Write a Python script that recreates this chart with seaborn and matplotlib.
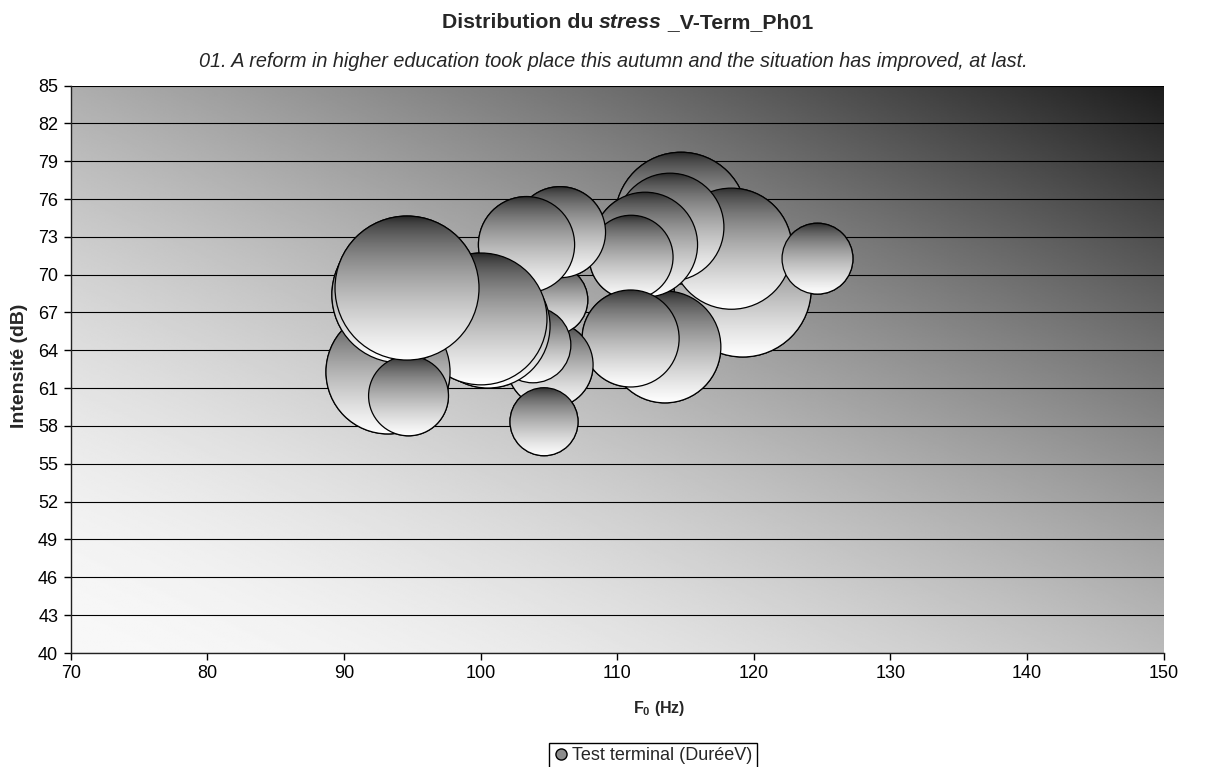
import numpy as np
import pandas as pd
import matplotlib
matplotlib.use("Agg")
import matplotlib.pyplot as plt
import seaborn as sns
from matplotlib.patches import Circle
from matplotlib.transforms import IdentityTransform
from matplotlib.lines import Line2D

# ---------------- data (drawing order: back to front) ----------------
f0_hz = [119.2, 114.68, 113.5, 118.37, 113.87, 112.05, 111.03, 110.99, 124.67,
         105.09, 105.3, 103.84, 104.65, 105.82, 103.37, 100.55, 100.04, 93.23,
         94.1, 94.73, 94.62]
intensite_db = [68.9, 74.48, 64.27, 72.06, 73.77, 72.38, 71.39, 64.94, 71.27,
                62.85, 67.99, 64.43, 58.34, 73.37, 72.38, 65.93, 66.49, 62.29,
                68.4, 60.39, 68.94]
duree_ms = [235, 218, 157, 184, 146, 138, 88, 118, 63,
            93, 61, 72, 58, 104, 116, 193, 218, 193,
            232, 80, 260]

x_ticks = [70, 80, 90, 100, 110, 120, 130, 140, 150]
y_ticks = [40, 43, 46, 49, 52, 55, 58, 61, 64, 67, 70, 73, 76, 79, 82, 85]

title_parts = ["Distribution du ", "stress", " _V-Term_Ph01"]
subtitle = "01. A reform in higher education took place this autumn and the situation has improved, at last."
x_label = r"F$_{\mathbf{0}}$ (Hz)"
y_label = "Intensité (dB)"
legend_label = "Test terminal (DuréeV)"

df = pd.DataFrame({"f0": f0_hz, "int": intensite_db, "duree": duree_ms})

# ---------------- style ----------------
sns.set_theme(style="white")
plt.rcParams["font.family"] = ["Liberation Sans", "DejaVu Sans"]
plt.rcParams["mathtext.fontset"] = "custom"
plt.rcParams["mathtext.rm"] = "Liberation Sans"
plt.rcParams["mathtext.bf"] = "Liberation Sans:bold"
plt.rcParams["mathtext.it"] = "Liberation Sans:italic"

W, H, DPI = 1227, 767, 100
fig = plt.figure(figsize=(W / DPI, H / DPI), dpi=DPI)
fig.patch.set_facecolor("white")
left_px, right_px, top_px, bot_px = 70.7, 1163.5, 85.5, 653.0
ax = fig.add_axes([left_px / W, 1 - bot_px / H, (right_px - left_px) / W, (bot_px - top_px) / H])

# bubble area proportional to duration (largest bubble radius ~72 px)
dmin, dmax = min(duree_ms), max(duree_ms)
k = (2 * 72 * 72.0 / DPI) ** 2 / dmax
sns.scatterplot(data=df, x="f0", y="int", size="duree", sizes=(k * dmin, k * dmax),
                size_norm=(dmin, dmax), color="white", edgecolor="black",
                linewidth=0.9, legend=False, ax=ax, zorder=3)

ax.set_xlim(70, 150)
ax.set_ylim(40, 85)
ax.set_autoscale_on(False)

# background diagonal gradient
n = 400
u = np.linspace(0, 1, n)[None, :]
v = np.linspace(1, 0, n)[:, None]
t = 0.47 * u + 0.53 * v
bg = (248 - 220 * t ** 1.7) / 255.0
ax.imshow(bg, extent=(0, 1, 0, 1), transform=ax.transAxes, cmap="gray", vmin=0, vmax=1,
          aspect="auto", interpolation="bilinear", zorder=0)
ax.set_xlim(70, 150)
ax.set_ylim(40, 85)

# grid
ax.set_yticks(y_ticks)
ax.set_xticks(x_ticks)
ax.yaxis.grid(True, color="black", linewidth=0.8, zorder=1)
ax.xaxis.grid(False)
ax.set_axisbelow(True)
for s in ["top", "right"]:
    ax.spines[s].set_visible(False)
for s in ["left", "bottom"]:
    ax.spines[s].set_color("#222222")
    ax.spines[s].set_linewidth(1.0)
    ax.spines[s].set_zorder(2)
ax.tick_params(axis="both", direction="out", length=5, width=1, color="black",
               labelsize=13, labelcolor="black", pad=4, left=True, bottom=True)
ax.set_xlabel("")
ax.set_ylabel("")

# gradient fill for each bubble, derived from the seaborn scatter collection
coll = ax.collections[0]
offs = coll.get_offsets()
sizes = coll.get_sizes()
if len(sizes) == 1:
    sizes = np.repeat(sizes, len(offs))
grad_t = np.linspace(0, 1, 256)[:, None]
grad = (30 + 225 * grad_t ** 0.6) / 255.0
inv = ax.transData.inverted()
for i, (o, s) in enumerate(zip(offs, sizes)):
    cx, cy = ax.transData.transform(o)
    r = np.sqrt(s) / 2 * DPI / 72.0
    (x0, y0) = inv.transform((cx - r, cy - r))
    (x1, y1) = inv.transform((cx + r, cy + r))
    z = 4 + i * 0.01
    im = ax.imshow(grad, extent=(x0, x1, y0, y1), cmap="gray", vmin=0, vmax=1,
                   aspect="auto", interpolation="bilinear", zorder=z, origin="upper")
    clip = Circle((cx, cy), r, transform=IdentityTransform())
    im.set_clip_path(clip)
    edge = Circle((cx, cy), r, transform=IdentityTransform(), fill=False,
                  edgecolor="black", linewidth=0.9, zorder=z + 0.005)
    ax.add_artist(edge)
ax.set_xlim(70, 150)
ax.set_ylim(40, 85)

# titles
fig.canvas.draw()
renderer = fig.canvas.get_renderer()
styles = ["normal", "italic", "normal"]
texts = []
widths = []
for part, st in zip(title_parts, styles):
    tx = fig.text(0, 1 - 28 / H, part, fontsize=15.3, fontweight="bold", fontstyle=st,
                  ha="left", va="baseline")
    texts.append(tx)
    widths.append(tx.get_window_extent(renderer).width)
total = sum(widths)
xpos = 627.5 - total / 2
for tx, w in zip(texts, widths):
    tx.set_x(xpos / W)
    xpos += w

fig.text(613 / W, 1 - 67 / H, subtitle, fontsize=14.3, fontstyle="italic",
         ha="center", va="baseline")

fig.text(659 / W, 1 - 708 / H, x_label, fontsize=11.5, fontweight="bold",
         ha="center", va="center")
fig.text(20 / W, 1 - 366 / H, y_label, fontsize=14, fontweight="bold",
         rotation=90, ha="center", va="center")

handle = Line2D([], [], marker="o", linestyle="", markerfacecolor="#8c8c8c",
                markeredgecolor="black", markersize=8, markeredgewidth=1)
leg = ax.legend(handles=[handle], labels=[legend_label], loc="center",
                bbox_to_anchor=(653 / W, 1 - 756 / H), bbox_transform=fig.transFigure,
                frameon=True, fancybox=False, edgecolor="black", framealpha=1,
                handletextpad=0.2, borderpad=0.25, handlelength=0.8, fontsize=13,
                borderaxespad=0)
leg.get_frame().set_linewidth(1.0)

fig.savefig("out.png", dpi=DPI)
